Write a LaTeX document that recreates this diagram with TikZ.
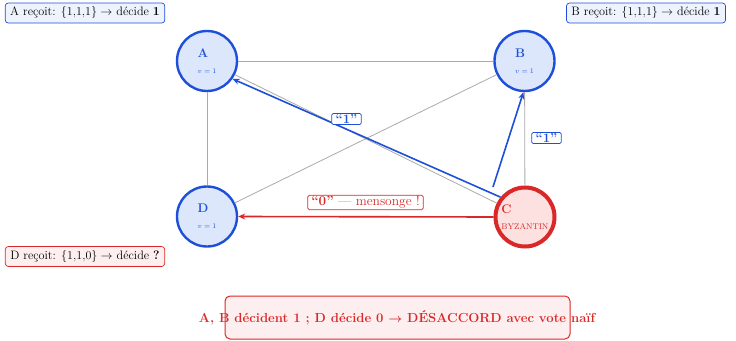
\documentclass[tikz,border=0pt]{standalone}
\usepackage{amsmath,amssymb}
\usetikzlibrary{arrows.meta}
\definecolor{cblue}{HTML}{1E4FD8}
\definecolor{cbluefill}{HTML}{DCE7FC}
\definecolor{cboxblue}{HTML}{EEF3FD}
\definecolor{cred}{HTML}{DA2828}
\definecolor{credfill}{HTML}{FDE0E0}
\definecolor{cboxred}{HTML}{FDEFEF}
\definecolor{cgray}{HTML}{AAAAAA}
\newcommand{\fsz}[1]{\fontsize{#1}{#1}\selectfont}
\begin{document}
\begin{tikzpicture}[x=1pt,y=-1pt,
  honest/.style={circle, draw=cblue, fill=cbluefill, line width=2.4pt, minimum size=60pt, inner sep=0pt, align=left, text=cblue},
  traitor/.style={circle, draw=cred, fill=credfill, line width=4pt, minimum size=59pt, inner sep=0pt, align=left, text=cred},
  link/.style={draw=cgray, line width=0.8pt},
  msgblue/.style={draw=cblue, line width=1.6pt, -{Stealth[length=7pt,width=6pt]}},
  msgred/.style={draw=cred, line width=1.6pt, -{Stealth[length=7pt,width=6pt]}},
  tagblue/.style={draw=cblue, fill=white, line width=0.7pt, rounded corners=1.5pt, inner xsep=4pt, inner ysep=1pt, font=\fsz{13}\bfseries, text=cblue},
  tagred/.style={draw=cred, fill=white, line width=0.7pt, rounded corners=1.5pt, inner xsep=3.5pt, inner ysep=1pt, font=\fsz{13.5}, text=cred},
  infoblue/.style={draw=cblue, fill=cboxblue, line width=0.7pt, rounded corners=3pt, minimum height=20pt, inner xsep=5pt, font=\fsz{12.2}},
  infored/.style={draw=cred, fill=cboxred, line width=0.7pt, rounded corners=3pt, minimum height=20pt, inner xsep=5pt, font=\fsz{12.2}}
]
\useasboundingbox (0,0) rectangle (736,340);

\node[honest] (A) at (207,61) {\fsz{12.5}\textbf{A}\\[4pt]{\fsz{7.5}$v=1$}};
\node[honest] (B) at (524.5,61) {\fsz{12.5}\textbf{B}\\[4pt]{\fsz{7.5}$v=1$}};
\node[honest] (D) at (207,216.5) {\fsz{12.5}\textbf{D}\\[4pt]{\fsz{7.5}$v=1$}};
\node[traitor] (C) at (525,217) {\fsz{12.5}\textbf{C}\\[4pt]{\fsz{8.2}BYZANTIN}};

\draw[link] (A) -- (B);
\draw[link] (A) -- (D);
\draw[link] (B) -- (C);
\draw[link] (A) -- (C);
\draw[link] (B) -- (D);

\coordinate (cb) at (493,187);
\draw[msgblue] (C.141) -- (A.-35);
\draw[msgblue] (cb) -- (B.-92);
\draw[msgred] (C.west) -- (D.east);

\node[tagblue] (t1) at (346.5,119) {``1''};
\node[tagblue] (t2) at (546.5,138) {``1''};
\node[tagred] (t3) at (365.5,202.5) {\textbf{``0''} --- mensonge !};

\node[infoblue] (ra) at (85,13) {A reçoit: $\{1{,}1{,}1\}\rightarrow$ décide \textbf{1}};
\node[infoblue] (rb) at (646,13) {B reçoit: $\{1{,}1{,}1\}\rightarrow$ décide \textbf{1}};
\node[infored] (rd) at (85,256.5) {D reçoit: $\{1{,}1{,}0\}\rightarrow$ décide \textbf{?}};

\node[draw=cred, fill=cboxred, line width=1pt, rounded corners=5pt, minimum width=345pt, minimum height=43pt] (box) at (397.5,317.5) {};
\node[text=cred, font=\fsz{13.1}\bfseries] (res) at (397,318) {A, B décident 1 ; D décide 0 $\boldsymbol{\rightarrow}$ DÉSACCORD avec vote naïf};
\end{tikzpicture}
\end{document}
